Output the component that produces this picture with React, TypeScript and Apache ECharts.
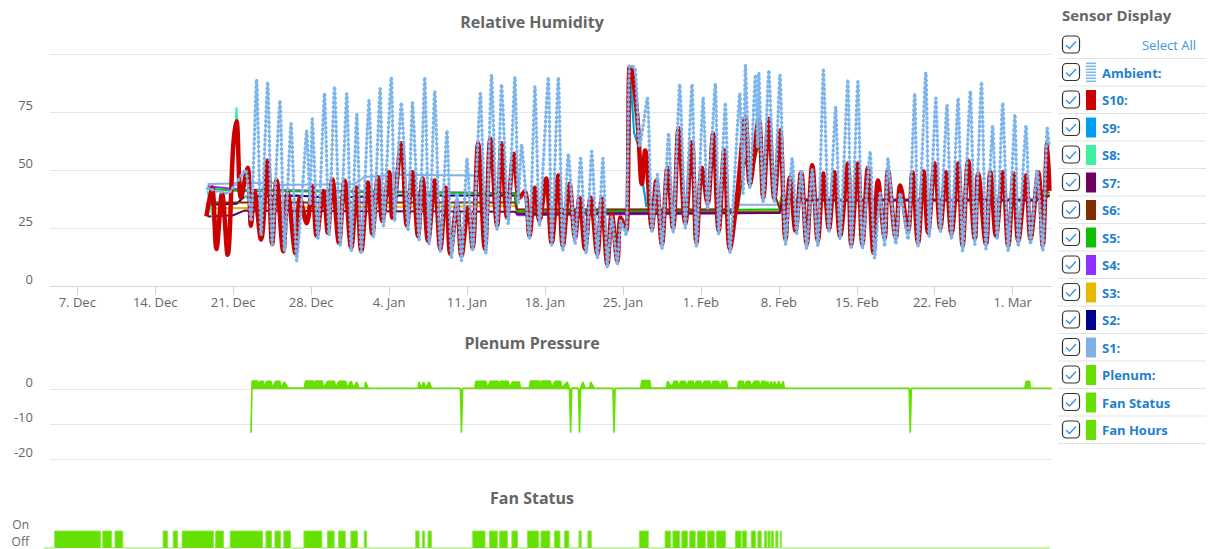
import React, { useEffect, useRef } from "react";
import * as echarts from "echarts";

// ---------- axis ticks ----------
const X_MIN = -2.45; // days relative to 7 Dec
const X_MAX = 87.53;
const tickDays = [0, 7, 14, 21, 28, 35, 42, 49, 56, 63, 70, 77, 84];
const tickLabels = ["7. Dec", "14. Dec", "21. Dec", "28. Dec", "4. Jan", "11. Jan", "18. Jan", "25. Jan", "1. Feb", "8. Feb", "15. Feb", "22. Feb", "1. Mar"];

// ---------- humidity series: [day since 7 Dec, %RH] ----------
const ambient = [
  [11.7, 42], [13.5, 40], [15.1, 50], [15.6, 28], [16.1, 89], [16.5, 22], [17.1, 88], [17.5, 18], [18.2, 80], [18.6, 15],
  [19.2, 70], [19.7, 11], [20.2, 40], [20.6, 67], [20.9, 35], [21.1, 72], [21.6, 20], [22.2, 83], [22.6, 22], [23.1, 86],
  [23.6, 17], [24.2, 83], [24.6, 15], [25.1, 74], [25.5, 14], [26.2, 80], [26.6, 21], [27.2, 85], [27.5, 26], [28.2, 90],
  [28.5, 28], [29.1, 79], [29.7, 24], [30.1, 79], [30.7, 20], [31.2, 90], [31.6, 18], [32.1, 84], [32.6, 15], [33.2, 67],
  [33.6, 12], [34.1, 40], [34.5, 11], [35.0, 55], [35.5, 15], [36.2, 83], [36.7, 14], [37.2, 91], [37.7, 24], [38.1, 87],
  [38.7, 27], [39.3, 90], [39.6, 36], [39.9, 61], [40.6, 20], [41.1, 86], [41.5, 26], [42.3, 90], [42.6, 17], [43.2, 90],
  [43.6, 15], [44.1, 57], [44.7, 18], [45.2, 55], [45.7, 14], [46.2, 58], [46.7, 12], [47.2, 55], [47.6, 8], [48.0, 30],
  [48.5, 9], [48.8, 28], [49.3, 22], [49.6, 95], [50.1, 94], [50.5, 60], [51.2, 81], [51.6, 23], [52.1, 48], [52.5, 16],
  [53.1, 66], [53.5, 23], [54.1, 87], [54.6, 25], [55.2, 87], [55.6, 17], [56.2, 81], [56.6, 33], [57.3, 87], [57.6, 22],
  [58.2, 79], [58.6, 14], [59.5, 83], [59.8, 40], [60.0, 95], [60.4, 42], [60.9, 91], [61.1, 60], [61.2, 92], [61.6, 36],
  [62.1, 93], [62.6, 36], [63.1, 91], [63.6, 18], [64.2, 55], [64.6, 22], [65.0, 50], [65.5, 16], [66.0, 50], [66.5, 17],
  [67.0, 93], [67.5, 23], [68.1, 77], [68.5, 20], [69.2, 89], [69.5, 16], [70.1, 88], [70.5, 16], [71.2, 58], [71.6, 12],
  [72.1, 40], [72.5, 17], [72.8, 55], [73.5, 18], [73.9, 40], [74.6, 20], [75.2, 83], [75.5, 17], [76.2, 92], [76.5, 21],
  [77.1, 81], [77.5, 23], [78.1, 78], [78.5, 20], [79.1, 81], [79.5, 15], [80.2, 84], [80.6, 18], [81.2, 88], [81.6, 16],
  [82.2, 69], [82.6, 20], [83.1, 79], [83.6, 15], [84.2, 74], [84.5, 17], [85.2, 69], [85.6, 18], [86.2, 50], [86.7, 15],
  [87.1, 68], [87.3, 60],
];

const s10 = [
  [11.6, 30], [12.1, 42.5], [12.5, 16], [13.0, 40], [13.5, 13.4], [14.0, 60], [14.3, 71], [14.7, 38], [15.3, 51], [15.6, 26],
  [15.9, 41], [16.5, 20], [17.1, 54], [17.5, 18], [17.9, 45.5], [18.5, 15], [18.9, 40], [19.6, 14], [20.0, 38], [20.6, 27],
  [21.1, 43], [21.5, 21.6], [22.1, 41], [22.5, 23], [22.9, 46], [23.5, 18.6], [24.0, 45.5], [24.6, 16.5], [25.1, 42.5], [25.5, 15],
  [26.1, 44.6], [26.5, 22.5], [27.0, 46.8], [27.4, 28], [28.0, 49], [28.3, 29.5], [29.1, 61.5], [29.6, 26], [30.1, 49], [30.6, 21.6],
  [31.0, 46.3], [31.5, 19.5], [32.1, 45.5], [32.6, 16], [33.1, 42.4], [33.5, 13.8], [34.1, 35.5], [34.5, 13], [35.1, 33.8], [35.5, 16.5],
  [36.0, 61.5], [36.6, 16], [37.1, 63.6], [37.7, 26], [38.1, 61.5], [38.6, 29.5], [39.2, 57], [39.7, 38], [40.2, 41], [40.6, 21.6],
  [41.1, 42.4], [41.5, 28], [42.1, 46.3], [42.6, 18.6], [43.2, 47.6], [43.6, 17.3], [44.2, 44], [44.7, 20.8], [45.1, 38], [45.6, 16],
  [46.1, 38], [46.7, 13.8], [47.1, 37.6], [47.6, 9.5], [48.0, 31], [48.5, 10.8], [48.8, 29.5], [49.3, 23.8], [49.6, 94.4], [49.8, 93],
  [50.3, 72.7], [50.7, 44], [51.0, 58.4], [51.6, 25], [52.0, 45.5], [52.5, 18], [53.0, 51], [53.5, 25], [54.0, 68], [54.6, 26.8],
  [55.2, 62], [55.6, 18.6], [56.1, 51], [56.6, 35.5], [57.1, 65.8], [57.6, 23.8], [58.1, 58.4], [58.6, 16], [59.3, 41], [60.0, 72.7],
  [60.4, 44], [61.2, 72], [61.6, 38], [62.1, 72], [62.6, 37.6], [63.1, 67], [63.6, 20], [64.0, 46.8], [64.5, 23.8], [65.0, 49],
  [65.5, 18], [66.0, 52], [66.5, 19.5], [67.0, 48.5], [67.5, 24.7], [68.0, 49], [68.5, 21.6], [69.2, 52.8], [69.5, 18], [70.1, 52.8],
  [70.5, 18], [71.0, 51], [71.5, 14.3], [71.9, 45.5], [72.5, 20.8], [72.8, 49.8], [73.5, 20.8], [73.9, 43.3], [74.6, 23.8], [75.0, 49],
  [75.5, 18.6], [76.0, 49.4], [76.4, 23], [77.0, 52.8], [77.5, 25], [78.0, 49], [78.5, 22.5], [79.1, 52.8], [79.5, 17.3], [80.0, 54],
  [80.6, 20.3], [80.9, 48.5], [81.6, 18], [82.0, 49], [82.5, 21.6], [83.1, 49], [83.6, 17.3], [84.1, 48.5], [84.5, 19.5], [85.2, 47.6],
  [85.6, 20.3], [86.3, 49], [86.7, 17.3], [87.1, 61.5], [87.3, 41],
];

const s9 = [[49.4, 30], [49.7, 88], [50.0, 66], [50.4, 60], [50.7, 48], [51.1, 34]];
const s8a = [[11.7, 41], [12.5, 20], [13.0, 38], [13.5, 15], [14.3, 77], [14.7, 40], [15.5, 37]];
const s8b = [[49.5, 40], [49.7, 90], [50.1, 74], [50.7, 45], [51.2, 35]];
const s7 = [[11.7, 30], [14.0, 30.5], [15.0, 32.5], [39.3, 32], [39.5, 31], [63.1, 31.5], [63.3, 37], [86.5, 37], [87.3, 39]];
const s6 = [[11.7, 36], [39.3, 36], [39.5, 33], [59.3, 33], [60.0, 55], [60.4, 45], [61.2, 62], [61.6, 42], [62.1, 63], [62.6, 40], [63.1, 33], [63.3, 37], [86.5, 37], [87.3, 39]];
const s5 = [[11.7, 42], [14.5, 41], [39.3, 40], [39.5, 32], [50.5, 32.5], [63.1, 33], [63.2, 38.5], [63.5, 37], [86.1, 37], [87.0, 41], [87.3, 40]];
const s4 = [[11.7, 43], [14.8, 41.5], [39.3, 40], [39.5, 30.5], [63.1, 31.5], [63.3, 37.2], [86.1, 37.2], [87.0, 43], [87.3, 42]];
const s3 = [[11.7, 33.5], [39.3, 34.5], [39.5, 32.5], [63.1, 32.5], [63.3, 37], [86.5, 37], [87.3, 40]];
const s2 = [[11.7, 35], [14.3, 35.5], [15.0, 38.5], [19.6, 39], [23.0, 38], [28.0, 39], [39.3, 39], [39.5, 32], [63.1, 32], [63.3, 37], [86.1, 37], [87.0, 40], [87.3, 39]];
const s1 = [[11.7, 44], [17.7, 44.5], [17.9, 43.5], [24.9, 44], [25.8, 47], [29.0, 48], [35.7, 47.6], [35.8, 40], [39.3, 40], [39.5, 33], [59.1, 33], [59.5, 35], [63.0, 35], [63.2, 37.5], [86.1, 37.5], [87.0, 42], [87.3, 41]];

// ---------- plenum pressure ----------
const plenum = [
  [15.6, -12.5], [15.7, 2.3], [16.2, 2.3], [16.3, 0.5], [16.4, 2.2], [16.7, 2.2], [16.8, 0.3], [17.0, 2.2], [17.4, 2.2], [17.5, 0.3],
  [17.8, 2.2], [18.2, 2.2], [18.3, 0.3], [18.6, 2.0], [18.9, 0.3], [20.4, 0.3], [20.5, 2.3], [21.2, 2.3], [21.3, 0.6], [21.4, 2.3],
  [22.0, 2.3], [22.1, 0.3], [22.5, 2.2], [23.1, 2.2], [23.2, 0.3], [23.5, 2.2], [24.1, 2.2], [24.2, 0.3], [24.6, 2.2], [24.8, 0.3],
  [25.1, 2.0], [25.3, 0.3], [25.8, 0.3], [25.9, 2.0], [26.1, 0.3], [30.6, 0.2], [30.7, 2.0], [30.9, 0.3], [31.1, 2.0], [31.3, 0.3],
  [31.6, 2.0], [31.8, 0.3], [34.4, 0.2], [34.5, -12.5], [34.6, 0.2], [35.7, 0.3], [35.8, 2.2], [36.7, 2.2], [36.8, 0.3], [37.1, 2.2],
  [37.8, 2.2], [37.9, 0.3], [38.0, 2.2], [38.7, 2.2], [38.8, 0.3], [39.1, 2.0], [39.7, 2.0], [39.8, 0.3], [40.6, 0.3], [40.7, 2.3],
  [41.5, 2.3], [41.6, 0.8], [41.7, 2.3], [42.5, 2.3], [42.6, 0.3], [42.9, 2.2], [43.4, 2.2], [43.5, 0.3], [44.0, 2.0], [44.2, 0.3],
  [44.3, -12.5], [44.4, 0.3], [45.0, 0.3], [45.1, -12.5], [45.2, 0.3], [45.4, 2.0], [45.6, 0.3], [46.0, 0.3], [46.1, 2.0], [46.4, 0.3],
  [48.1, 0.2], [48.2, -12.5], [48.3, 0.2], [50.6, 0.3], [50.7, 2.4], [51.4, 2.4], [51.5, 0.3], [52.9, 0.3], [53.0, 2.2], [53.4, 0.6],
  [53.6, 2.2], [53.9, 2.2], [54.0, 0.6], [54.2, 2.2], [54.6, 2.2], [54.7, 0.6], [54.9, 2.2], [55.3, 2.2], [55.4, 0.6], [55.6, 2.2],
  [56.0, 2.2], [56.1, 0.6], [56.3, 2.2], [56.8, 2.2], [56.9, 0.6], [57.1, 2.2], [57.6, 2.2], [57.7, 0.6], [57.9, 2.2], [58.3, 2.2],
  [58.4, 0.3], [59.3, 0.3], [59.4, 2.2], [59.8, 2.2], [59.9, 0.6], [60.1, 2.2], [60.4, 2.2], [60.5, 0.6], [60.8, 2.2], [61.2, 2.2],
  [61.3, 0.6], [61.5, 2.2], [61.8, 2.2], [61.9, 0.6], [62.0, 2.2], [62.2, 0.6], [62.3, 2.2], [62.5, 0.6], [62.6, 2.2], [62.8, 0.6],
  [63.0, 2.2], [63.2, 0.6], [63.4, 2.2], [63.5, 0.2], [74.7, 0.2], [74.8, -12.5], [74.9, 0.2], [85.1, 0.2], [85.2, 2.2], [85.5, 2.2],
  [85.6, 0.2], [87.5, 0.2],
];

// ---------- fan status: periods when fan was on [start day, end day] ----------
const fanOn = [
  [-1.5, 2.6], [2.8, 3.6], [3.9, 4.6], [8.2, 8.6], [9.1, 9.5], [9.9, 12.7], [12.9, 13.6], [14.2, 17.1], [17.4, 17.9], [18.2, 18.7],
  [19.0, 19.6], [20.8, 22.4], [22.9, 23.5], [23.9, 24.5], [25.0, 25.6], [26.2, 26.4], [30.8, 31.1], [31.4, 31.6], [31.9, 32.2],
  [35.9, 37.0], [37.4, 38.1], [38.3, 39.0], [39.4, 39.9], [40.8, 41.8], [42.0, 42.8], [43.2, 43.7], [44.1, 44.5], [45.4, 45.6],
  [46.2, 46.5], [50.8, 51.6], [53.1, 53.6], [53.8, 54.4], [54.6, 55.1], [55.3, 55.8], [56.0, 56.7], [56.9, 57.5], [57.7, 58.5],
  [59.4, 59.9], [60.0, 60.4], [60.8, 61.2], [61.4, 61.7], [62.0, 62.2], [62.3, 62.5], [62.6, 62.8], [63.0, 63.2], [63.4, 63.5],
];

// ---------- side panel ----------
const panelLabels = ["Ambient:", "S10:", "S9:", "S8:", "S7:", "S6:", "S5:", "S4:", "S3:", "S2:", "S1:", "Plenum:", "Fan Status", "Fan Hours"];
const panelColors = ["#80b8ec", "#cc0000", "#00a0f0", "#40f0a0", "#700060", "#803000", "#10c000", "#9030ff", "#e8b800", "#000090", "#80b0e8", "#66e000", "#66e000", "#66e000"];

const FONT = "'Open Sans', 'Noto Sans', sans-serif";
const GREEN = "#66e000";

function buildFan() {
  const d: number[][] = [[X_MIN, 0]];
  fanOn.forEach(([s, e]) => {
    d.push([s, 0], [s, 1], [e, 1], [e, 0]);
  });
  d.push([X_MAX, 0]);
  return d;
}

function buildPanel() {
  const els: any[] = [];
  els.push({
    type: "text", x: 1062, y: 15,
    style: { text: "Sensor Display", fontSize: 15, fontWeight: "bold", fill: "#666", fontFamily: FONT, align: "left", verticalAlign: "middle" },
  });
  const rows = panelLabels.length + 1;
  for (let i = 0; i < rows; i++) {
    const cy = 45 + 27.5 * i;
    els.push({
      type: "line", shape: { x1: 1058, y1: cy + 13.5, x2: 1206, y2: cy + 13.5 },
      style: { stroke: "#e2e2e2", lineWidth: 1 },
    });
    els.push({
      type: "rect", shape: { x: 1062.5, y: cy - 9, width: 17, height: 17, r: 4 },
      style: { fill: "#fff", stroke: "#333", lineWidth: 1.2 },
    });
    els.push({
      type: "polyline", shape: { points: [[1066, cy], [1069.5, cy + 3.5], [1076, cy - 3.5]] },
      style: { stroke: "#3a8fdc", lineWidth: 1.3, fill: null },
    });
    if (i === 0) {
      els.push({
        type: "text", x: 1196, y: cy,
        style: { text: "Select All", fontSize: 13, fill: "#3d95dc", fontFamily: FONT, align: "right", verticalAlign: "middle" },
      });
    } else {
      const k = i - 1;
      if (k === 0) {
        for (let j = 0; j < 7; j++) {
          els.push({ type: "rect", shape: { x: 1086, y: cy - 10 + j * 3, width: 10, height: 1.6 }, style: { fill: panelColors[0] } });
        }
      } else {
        els.push({ type: "rect", shape: { x: 1086, y: cy - 10, width: 10, height: 20 }, style: { fill: panelColors[k] } });
      }
      els.push({
        type: "text", x: 1102, y: cy,
        style: { text: panelLabels[k], fontSize: 13, fontWeight: "bold", fill: "#1e80d0", fontFamily: FONT, align: "left", verticalAlign: "middle" },
      });
    }
  }
  return els;
}

function titleEl(text: string, y: number) {
  return {
    type: "text", x: 532, y,
    style: { text, fontSize: 16, fontWeight: "bold", fill: "#666", fontFamily: FONT, align: "center", verticalAlign: "middle" },
  };
}

function flat(name: string, data: number[][], color: string, width = 2, z = 3) {
  return {
    type: "line", name, xAxisIndex: 0, yAxisIndex: 0, data, symbol: "none", showSymbol: false,
    lineStyle: { color, width }, itemStyle: { color }, z,
  };
}

export default function App() {
  const ref = useRef<HTMLDivElement>(null);
  useEffect(() => {
    document.body.style.margin = "0";
    if (!ref.current) return;
    const chart = echarts.init(ref.current, null, { renderer: "svg" });
    const axisLabelBase = { color: "#666", fontSize: 13, fontFamily: FONT };
    const xCommon = { type: "value", min: X_MIN, max: X_MAX, splitLine: { show: false } };
    chart.setOption({
      animation: false,
      textStyle: { fontFamily: FONT },
      grid: [
        { left: 50, right: 160, top: 54, height: 232 },
        { left: 50, right: 160, top: 354, height: 105 },
        { left: 44, right: 162, top: 531, bottom: 1 },
      ],
      xAxis: [
        {
          ...xCommon, gridIndex: 0,
          axisLine: { show: true, lineStyle: { color: "#ccd6eb", width: 1 } },
          axisTick: { show: true, customValues: tickDays, length: 9, lineStyle: { color: "#ccd6eb" } },
          axisLabel: {
            ...axisLabelBase, customValues: tickDays, margin: 9,
            formatter: (v: number) => tickLabels[tickDays.indexOf(Math.round(v))] ?? "",
          },
        },
        { ...xCommon, gridIndex: 1, show: false },
        { ...xCommon, gridIndex: 2, show: false },
      ],
      yAxis: [
        {
          type: "value", gridIndex: 0, min: 0, max: 100, interval: 25,
          axisLine: { show: false }, axisTick: { show: false },
          axisLabel: { ...axisLabelBase, margin: 17, showMaxLabel: false, verticalAlign: "bottom", lineHeight: 14 },
          splitLine: { lineStyle: { color: "#e6e6e6" } },
        },
        {
          type: "value", gridIndex: 1, min: -20, max: 10, interval: 10,
          axisLine: { show: false }, axisTick: { show: false },
          axisLabel: { ...axisLabelBase, margin: 17, showMaxLabel: false, verticalAlign: "bottom", lineHeight: 14 },
          splitLine: { lineStyle: { color: "#e6e6e6" }, showMaxLine: false },
        },
        {
          type: "value", gridIndex: 2, min: 0, max: 1, interval: 1,
          axisLine: { show: false }, axisTick: { show: false },
          axisLabel: {
            ...axisLabelBase, fontSize: 12, margin: 15, verticalAlign: "bottom", lineHeight: 13,
            formatter: (v: number) => (v >= 1 ? "On" : "Off"),
          },
          splitLine: { show: false },
        },
      ],
      graphic: [
        titleEl("Relative Humidity", 22),
        titleEl("Plenum Pressure", 343),
        titleEl("Fan Status", 498),
        ...buildPanel(),
      ],
      series: [
        flat("S1", s1, "#80b0e8"),
        flat("S2", s2, "#000090"),
        flat("S3", s3, "#e8b800"),
        flat("S4", s4, "#9030ff"),
        flat("S5", s5, "#10c000"),
        flat("S6", s6, "#803000"),
        flat("S7", s7, "#700060"),
        flat("S8", s8a, "#40f0a0"),
        flat("S8", s8b, "#40f0a0"),
        flat("S9", s9, "#00a0f0"),
        {
          type: "line", name: "S10", xAxisIndex: 0, yAxisIndex: 0, data: s10, symbol: "none", showSymbol: false,
          smooth: 0.35, lineStyle: { color: "#cc0000", width: 4.5 }, z: 4,
        },
        {
          type: "line", name: "Ambient", xAxisIndex: 0, yAxisIndex: 0, data: ambient, symbol: "none", showSymbol: false,
          smooth: 0.15, lineStyle: { color: "#7cb5ec", width: 1, opacity: 0.9 }, z: 5,
        },
        {
          type: "line", name: "Ambient", xAxisIndex: 0, yAxisIndex: 0, data: ambient, symbol: "none", showSymbol: false,
          smooth: 0.15, lineStyle: { color: "#7cb5ec", width: 3.4, type: [0.5, 4.2], cap: "round" }, z: 5,
        },
        {
          type: "line", name: "Plenum", xAxisIndex: 1, yAxisIndex: 1, data: plenum, symbol: "none", showSymbol: false,
          lineStyle: { color: GREEN, width: 1.6 }, areaStyle: { color: GREEN, opacity: 1, origin: 0 },
        },
        {
          type: "line", name: "Fan Status", xAxisIndex: 2, yAxisIndex: 2, data: buildFan(), symbol: "none", showSymbol: false,
          lineStyle: { color: "#8fe84a", width: 1 }, areaStyle: { color: GREEN, opacity: 1 }, clip: false,
        },
      ],
    });
    return () => chart.dispose();
  }, []);
  return <div ref={ref} style={{ width: 1212, height: 549 }} />;
}
